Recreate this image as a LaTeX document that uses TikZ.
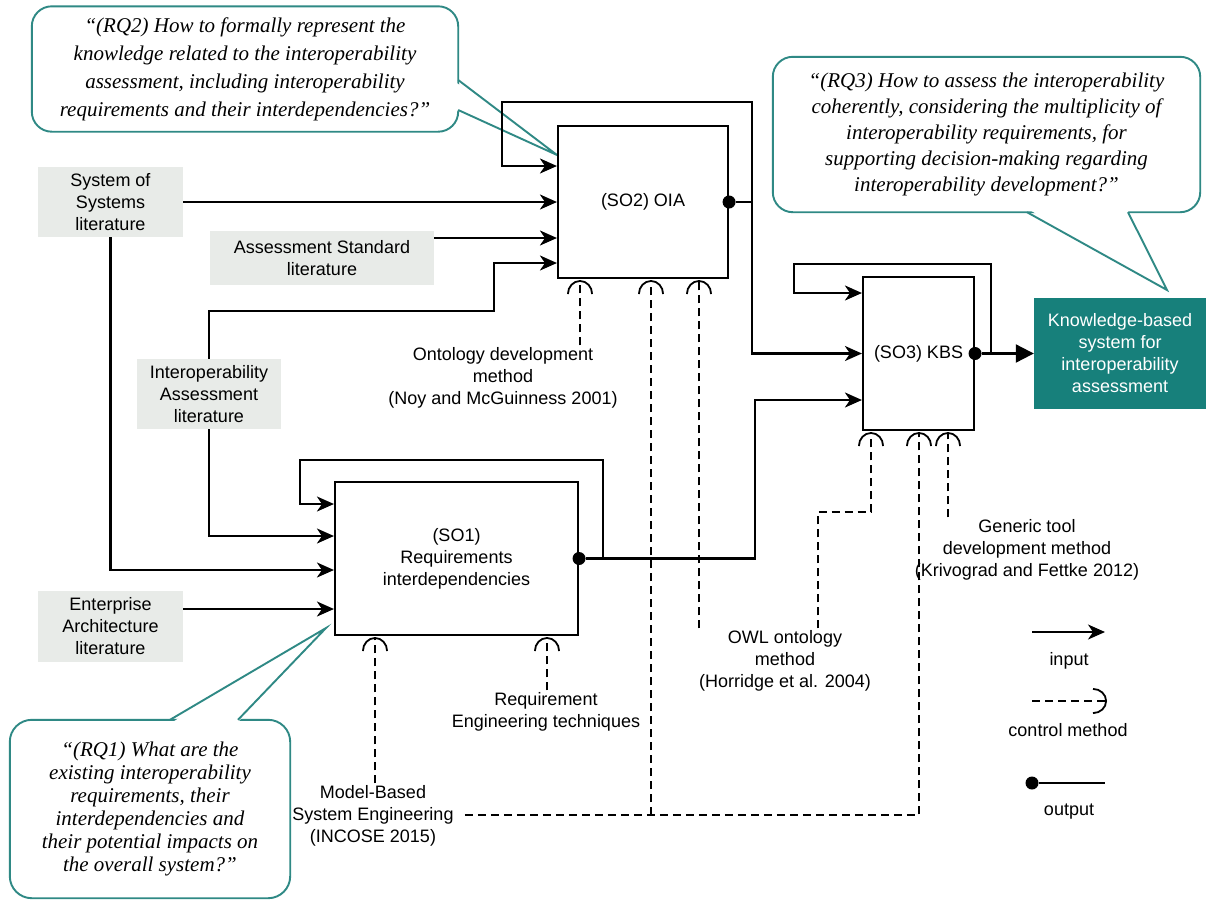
\documentclass[tikz,border=0pt]{standalone}
\usepackage{fontspec}
\setmainfont{Liberation Sans}
\newfontfamily\quotefont{Liberation Serif}
\usepackage{tikz}
\usetikzlibrary{arrows.meta}
\definecolor{litgray}{HTML}{E8EBE8}
\definecolor{kbsteal}{HTML}{17807B}
\definecolor{rqteal}{HTML}{2F8985}
\tikzset{
  litbox/.style={fill=litgray, align=center, inner sep=0pt},
  funcbox/.style={draw, line width=2.1pt, fill=white, align=center, inner sep=0pt},
  outdot/.style={circle, fill, inner sep=0pt, minimum size=13pt},
  inarrow/.style={line width=2.1pt, -{Stealth[length=17pt,width=15pt,inset=5pt]}},
  ctrlarrow/.style={line width=1.8pt, dash pattern=on 8pt off 5pt, -{Arc Barb[length=14pt,width=26pt]}, shorten >=1pt},
  rqbox/.style={align=center, inner sep=0pt, font=\quotefont\itshape\fontsize{21}{#1}\selectfont},
  rqline/.style={draw=rqteal, line width=1.9pt},
  methodlabel/.style={align=center, inner sep=2pt},
}

\begin{document}
\begin{tikzpicture}[x=1pt,y=-1pt,font=\fontsize{18}{22}\selectfont]
  \useasboundingbox (0,0) rectangle (1206,906);
  \fill[white] (0,0) rectangle (1206,906);

  % research questions
  \node[rqbox=28, minimum width=426, minimum height=125] (rq2) at (245,69)
    {“(RQ2) How to formally represent the\\knowledge related to the interoperability\\assessment, including interoperability\\requirements and their interdependencies?”};
  \coordinate (rq2tip) at (557,155);
  \draw[rqline, rounded corners=20pt] (rq2.north west) rectangle (rq2.south east);
  \fill[white] (454,81) -- (rq2tip) -- (454,109) -- cycle;
  \draw[rqline] (rq2.east |- 0,80) -- (rq2tip) -- (rq2.east |- 0,110);

  \node[rqbox=26, minimum width=427, minimum height=155] (rq3) at (986.5,134.5)
    {“(RQ3) How to assess the interoperability\\coherently, considering the multiplicity of\\interoperability requirements, for\\supporting decision-making regarding\\interoperability development?”};
  \coordinate (rq3tip) at (1167,290);
  \draw[rqline, rounded corners=20pt] (rq3.north west) rectangle (rq3.south east);
  \fill[white] (1028,209) -- (rq3tip) -- (1127,209) -- cycle;
  \draw[rqline] (rq3.south -| 1027,0) -- (rq3tip) -- (rq3.south -| 1128,0);

  \node[rqbox=23, minimum width=280, minimum height=178] (rq1) at (150,809)
    {“(RQ1) What are the\\existing interoperability\\requirements, their\\interdependencies and\\their potential impacts on\\the overall system?”};
  \coordinate (rq1tip) at (326,628);
  \draw[rqline, rounded corners=22pt] (rq1.north west) rectangle (rq1.south east);
  \fill[white] (171,723) -- (rq1tip) -- (237,723) -- cycle;
  \draw[rqline] (rq1.north -| 170,0) -- (rq1tip) -- (rq1.north -| 238,0);

  % literature
  \node[litbox, minimum width=145, minimum height=70] (sos) at (110.5,202) {System of\\Systems\\literature};
  \node[litbox, minimum width=224, minimum height=54] (asl) at (322,258) {Assessment Standard\\literature};
  \node[litbox, minimum width=144, minimum height=70] (ial) at (209,394) {Interoperability\\Assessment\\literature};
  \node[litbox, minimum width=145, minimum height=71] (eal) at (110.5,626.5) {Enterprise\\Architecture\\literature};

  % objectives
  \node[funcbox, minimum width=170, minimum height=152] (so2) at (643,202) {(SO2) OIA};
  \node[funcbox, minimum width=111, minimum height=153] (so3) at (918.5,353.5) {(SO3) KBS};
  \node[funcbox, minimum width=243, minimum height=153] (so1) at (456.5,558.5) {(SO1)\\Requirements\\interdependencies};
  \node[fill=kbsteal, text=white, align=center, inner sep=0pt, minimum width=172, minimum height=111] (kbs) at (1120,353.5)
    {Knowledge-based\\system for\\interoperability\\assessment};
  \node[outdot] (so2out) at (so2.east) {};
  \node[outdot] (so3out) at (so3.east) {};
  \node[outdot] (so1out) at (so1.east) {};

  % inputs
  \draw[inarrow] (so2out) -- (752,202) |- (502,102) |- (so2.west |- 0,166);
  \draw[inarrow] (sos) -- (so2);
  \draw[inarrow] (asl.east |- 0,238) -- (so2.west |- 0,238);
  \draw[inarrow] (ial.north) |- (494,311) |- (so2.west |- 0,263);
  \draw[inarrow] (so2out) -- (752,202) |- (so3);
  \draw[inarrow] (so3out) -- (991,353.5) |- (794,264) |- (so3.west |- 0,293);
  \draw[inarrow] (so1out) -- (755,558.5) |- (so3.west |- 0,400);
  \draw[inarrow] (so1out) -- (603,558.5) |- (300,460) |- (so1.west |- 0,504);
  \draw[inarrow] (ial.south) |- (so1.west |- 0,536);
  \draw[inarrow] (sos.south) |- (so1.west |- 0,570);
  \draw[inarrow] (eal.east |- 0,609) -- (so1.west |- 0,609);
  \draw[line width=2.1pt, -{Triangle[length=18pt,width=18pt]}] (so3out) -- (kbs);

  % control methods
  \node[methodlabel] (ont) at (503,378) {Ontology development\\method\\(Noy and McGuinness 2001)};
  \node[methodlabel] (owl) at (785,661) {OWL ontology\\method\\(Horridge et al. 2004)};
  \node[methodlabel] (gen) at (1027,550) {Generic tool\\development method\\(Krivograd and Fettke 2012)};
  \node[methodlabel] (reqeng) at (546,712) {Requirement\\Engineering techniques};
  \node[methodlabel, inner xsep=11pt] (mbse) at (373,816) {Model-Based\\System Engineering\\(INCOSE 2015)};
  \coordinate (mbsejoin) at (651,815);

  \draw[ctrlarrow] (ont.north -| 580,0) -- (so2.south -| 580,0);
  \draw[ctrlarrow] (mbsejoin) -- (so2.south -| 651,0);
  \draw[ctrlarrow] (owl.north -| 699,0) -- (so2.south -| 699,0);
  \draw[ctrlarrow] (owl.north -| 818,0) |- (871,512) -- (so3.south -| 871,0);
  \draw[ctrlarrow] (mbse.east |- 0,815) -| (so3.south -| 919,0);
  \draw[ctrlarrow] (gen.north -| 948,0) -- (so3.south -| 948,0);
  \draw[ctrlarrow] (mbse.north -| 375,0) -- (so1.south -| 375,0);
  \draw[ctrlarrow] (reqeng.north -| 547,0) -- (so1.south -| 547,0);

  % legend
  \coordinate (legin1) at (1032,632);
  \coordinate (legin2) at (1105,632);
  \draw[inarrow] (legin1) -- (legin2);
  \node (legintxt) at (1069,661) {input};
  \coordinate (legctl1) at (1032,701);
  \coordinate (legctl2) at (1107,701);
  \draw[ctrlarrow, shorten >=0pt] (legctl1) -- (legctl2);
  \node (legctltxt) at (1068,730) {control method};
  \node[outdot] (legout1) at (1032,783) {};
  \coordinate (legout2) at (1105,783);
  \draw[line width=2.1pt] (legout1) -- (legout2);
  \node (legouttxt) at (1069,812) {output};
\end{tikzpicture}
\end{document}
